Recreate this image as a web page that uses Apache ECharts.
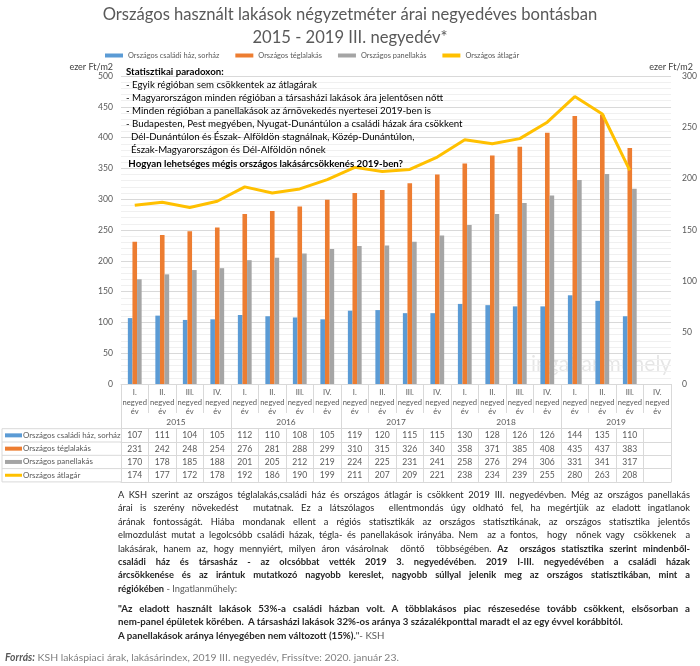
<!DOCTYPE html>
<html><head><meta charset="utf-8">
<script src="https://cdn.jsdelivr.net/npm/echarts/dist/echarts.min.js"></script>
<style>
html,body{margin:0;padding:0;background:#fff;}
#chart{position:absolute;left:0;top:0;width:700px;height:666px;}
.txt{position:absolute;font-family:Lato,"Open Sans",sans-serif;color:#262626;}
.ln{height:13.4px;line-height:13.4px;white-space:nowrap;}
.j{text-align:justify;text-align-last:justify;white-space:normal;overflow:hidden;}
.g{color:#595959;font-weight:normal;}
</style></head>
<body>
<div id="chart"></div>
<div class="txt" id="p1" style="left:118px;top:488px;width:572px;font-size:9.3px;">
<div class="ln j">A KSH szerint az országos téglalakás,családi ház és országos átlagár is csökkent 2019 III. negyedévben. Még az országos panellakás</div>
<div class="ln j">árai is szerény növekedést &nbsp;mutatnak. Ez a látszólagos &nbsp;ellentmondás úgy oldható fel, ha megértjük az eladott ingatlanok</div>
<div class="ln j">árának fontosságát. Hiába mondanak ellent a régiós statisztikák az országos statisztikának, az országos statisztika jelentős</div>
<div class="ln j">elmozdulást mutat a legolcsóbb családi házak, tégla- és panellakások irányába. Nem &nbsp;az a fontos, &nbsp;hogy &nbsp;nőnek vagy &nbsp;csökkenek &nbsp;a</div>
<div class="ln j">lakásárak, hanem az, hogy mennyiért, milyen áron vásárolnak &nbsp;döntő &nbsp;többségében. <b>Az &nbsp;országos statisztika szerint mindenből-</b></div>
<div class="ln j"><b>családi ház és társasház - az olcsóbbat vették 2019 3. negyedévében. 2019 I-III. negyedévében a családi házak</b></div>
<div class="ln j"><b>árcsökkenése és az irántuk mutatkozó nagyobb kereslet, nagyobb súllyal jelenik meg az országos statisztikában, mint a</b></div>
<div class="ln"><b>régiókében</b> <span class="g">- Ingatlanműhely:</span></div>
</div>
<div class="txt" id="p2" style="left:118px;top:602px;width:572px;font-size:9.7px;">
<div class="ln j"><b>"Az eladott használt lakások 53%-a családi házban volt. A többlakásos piac részesedése tovább csökkent, elsősorban a</b></div>
<div class="ln"><b>nem-panel épületek körében. &nbsp;A társasházi lakások 32%-os aránya 3 százalékponttal maradt el az egy évvel korábbitól.</b></div>
<div class="ln"><b>A panellakások aránya lényegében nem változott (15%).</b>"<span class="g">- KSH</span></div>
</div>
<div class="txt" style="left:5px;top:651px;font-size:10.4px;color:#7f7f7f;white-space:nowrap;line-height:12px;"><b><i style="color:#595959">Forrás:</i></b> KSH lakáspiaci árak, lakásárindex, 2019 III. negyedév, Frissítve: 2020. január 23.</div>
<script>
// ---- data ----
const years = ['2015', '2016', '2017', '2018', '2019'];
const categories = ['I.','II.','III.','IV.','I.','II.','III.','IV.','I.','II.','III.','IV.','I.','II.','III.','IV.','I.','II.','III.','IV.'];
const csaladi = [107,111,104,105,112,110,108,105,119,120,115,115,130,128,126,126,144,135,110,null];
const tegla   = [231,242,248,254,276,281,288,299,310,315,326,340,358,371,385,408,435,437,383,null];
const panel   = [170,178,185,188,201,205,212,219,224,225,231,241,258,276,294,306,331,341,317,null];
const atlag   = [174,177,172,178,192,186,190,199,211,207,209,221,238,234,239,255,280,263,208,null];
const seriesNames = ['Országos családi ház, sorház','Országos téglalakás','Országos panellakás','Országos átlagár'];
const leftTicks = [0,500,50];
const rightTicks = [0,300,50];

const colors = ['#5B9BD5','#ED7D31','#A5A5A5','#FFC000'];
const FONT = 'Lato, "Open Sans", sans-serif';
const TXT = '#595959';
const BORDER = '#D9D9D9';

const gridLeft = 121, gridRight = 673, gridTop = 76, gridBottom = 384;
const tableTop = 428.7, rowH = 13.3;
const rowData = [csaladi, tegla, panel, atlag];

const chart = echarts.init(document.getElementById('chart'));

const xAxes = [
  { type:'category', data:categories, gridIndex:0, position:'bottom',
    axisLine:{show:true, lineStyle:{color:BORDER}},
    axisTick:{show:true, interval:0, length:29, lineStyle:{color:BORDER}},
    axisLabel:{interval:0, margin:4, fontSize:7.6, lineHeight:9.5, color:TXT, fontFamily:FONT,
      formatter: v => v + '\nnegyed\név'} },
  { type:'category', data:years, gridIndex:0, position:'bottom', offset:0,
    axisLine:{show:false},
    axisTick:{show:true, interval:0, length:tableTop-gridBottom, lineStyle:{color:BORDER}},
    axisLabel:{interval:0, margin:34, fontSize:8.4, color:TXT, fontFamily:FONT} }
];
rowData.forEach((arr, i) => {
  xAxes.push({ type:'category', gridIndex:0, position:'bottom',
    data: arr.map(v => v == null ? '' : String(v)),
    offset: tableTop - gridBottom + rowH*i,
    axisLine:{show:true, lineStyle:{color:BORDER}},
    axisTick:{show:true, interval:0, length:rowH, lineStyle:{color:BORDER}},
    axisLabel:{interval:0, margin:2.5, fontSize:8.6, color:TXT, fontFamily:FONT} });
});
xAxes.push({ type:'category', gridIndex:0, position:'bottom', data:categories,
  offset: tableTop - gridBottom + rowH*4,
  axisLine:{show:true, lineStyle:{color:BORDER}}, axisTick:{show:false}, axisLabel:{show:false} });

// row header column graphics
const graphics = [];
for (let i = 0; i <= 4; i++) {
  graphics.push({ type:'line', shape:{x1:2, y1:tableTop+rowH*i, x2:gridLeft, y2:tableTop+rowH*i},
    style:{stroke:BORDER, lineWidth:1} });
}
graphics.push({ type:'line', shape:{x1:2, y1:tableTop, x2:2, y2:tableTop+rowH*4}, style:{stroke:BORDER, lineWidth:1} });
seriesNames.forEach((n, i) => {
  const cy = tableTop + rowH*i + rowH/2;
  const h = i === 3 ? 3 : 4;
  graphics.push({ type:'rect', shape:{x:5, y:cy-h/2, width:17, height:h}, style:{fill:colors[i]} });
  graphics.push({ type:'text', x:23, y:cy, style:{text:n, fill:TXT, font:'7.9px ' + FONT, textVerticalAlign:'middle'} });
});
// annotation box
graphics.push({ type:'text', x:126, y:65.2, z:10, style:{
  text: '{b|Statisztikai paradoxon:}\n' +
    '{n|- Egyik régióban sem csökkentek az átlagárak}\n' +
    '{n|- Magyarországon minden régióban a társasházi lakások ára jelentősen nőtt}\n' +
    '{n|- Minden régióban a panellakások az árnövekedés nyertesei 2019-ben is}\n' +
    '{n|- Budapesten, Pest megyében, Nyugat-Dunántúlon a családi házak ára csökkent}\n' +
    '{n|  Dél-Dunántúlon és Észak- Alföldön stagnálnak, Közép-Dunántúlon,}\n' +
    '{n|  Észak-Magyarországon és Dél-Alföldön nőnek}\n' +
    '{b| Hogyan lehetséges mégis országos lakásárcsökkenés 2019-ben?}',
  rich: {
    b:{fontFamily:FONT, fontSize:9.7, fontWeight:'bold', fill:'#000', lineHeight:13.1},
    n:{fontFamily:FONT, fontSize:9.7, fill:'#000', lineHeight:13.1}
  }
}});
// watermark
graphics.push({ type:'text', x:531, y:354, z:-1, style:{text:'ingatlanműhely', fill:'rgba(0,0,0,0.1)', font:'21px ' + FONT} });

const option = {
  animation:false,
  color: colors,
  title: [
    { text:'Országos használt lakások négyzetméter árai negyedéves bontásban', left:'center', top:1,
      textStyle:{fontFamily:FONT, fontSize:16.6, fontWeight:'normal', color:TXT} },
    { text:'2015 - 2019 III. negyedév*', left:'center', top:24,
      textStyle:{fontFamily:FONT, fontSize:16.6, fontWeight:'normal', color:TXT} }
  ],
  legend: { top:47, left:100, itemWidth:18, itemHeight:4, itemGap:16, icon:'rect',
    textStyle:{fontFamily:FONT, fontSize:7.4, color:TXT}, data: seriesNames },
  grid: { left:gridLeft, right:700-gridRight, top:gridTop, bottom:666-gridBottom, containLabel:false },
  xAxis: xAxes,
  yAxis: [
    { type:'value', min:leftTicks[0], max:leftTicks[1], interval:leftTicks[2], position:'left',
      name:'ezer Ft/m2', nameLocation:'end', nameGap:8,
      nameTextStyle:{fontFamily:FONT, fontSize:9, color:'#404040', align:'right', verticalAlign:'middle', padding:[0,8,0,0]},
      axisLine:{show:false}, axisTick:{show:false},
      axisLabel:{margin:8, fontSize:8.6, color:TXT, fontFamily:FONT},
      splitLine:{lineStyle:{color:BORDER}},
      minorTick:{show:false, splitNumber:5},
      minorSplitLine:{show:true, lineStyle:{color:'#F0F0F0'}} },
    { type:'value', min:rightTicks[0], max:rightTicks[1], interval:rightTicks[2], position:'right',
      name:'ezer Ft/m2', nameLocation:'end', nameGap:8,
      nameTextStyle:{fontFamily:FONT, fontSize:9, color:'#404040', align:'center', verticalAlign:'middle'},
      axisLine:{show:false}, axisTick:{show:false},
      axisLabel:{margin:11, fontSize:8.6, color:TXT, fontFamily:FONT},
      splitLine:{show:false} }
  ],
  series: [
    { name:seriesNames[0], type:'bar', data:csaladi, barWidth:4.6, barGap:'0%', xAxisIndex:0, yAxisIndex:0 },
    { name:seriesNames[1], type:'bar', data:tegla, barWidth:4.6, barGap:'0%', xAxisIndex:0, yAxisIndex:0 },
    { name:seriesNames[2], type:'bar', data:panel, barWidth:4.6, barGap:'0%', xAxisIndex:0, yAxisIndex:0 },
    { name:seriesNames[3], type:'line', data:atlag, xAxisIndex:0, yAxisIndex:1, symbol:'none',
      lineStyle:{width:3, color:colors[3]}, z:5 }
  ],
  graphic: graphics
};
chart.setOption(option);
</script>
</body></html>
